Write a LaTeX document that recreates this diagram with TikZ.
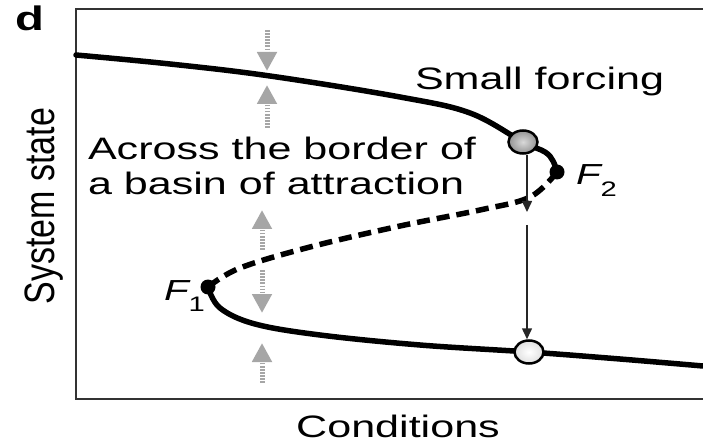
\documentclass[tikz,border=0pt]{standalone}
\usepackage{fontspec}
\setmainfont{Liberation Sans}
\usetikzlibrary{arrows.meta,shapes.geometric}
\newcommand{\hs}[1]{\scalebox{1.39}[1]{#1}}
\tikzset{
  lbl/.style={inner sep=0pt, outer sep=0pt, font=\fontsize{31}{35}\selectfont},
  branch/.style={line width=5.5pt, black, line cap=round},
  garrow/.style={draw=gray!70, line width=5pt, dash pattern=on 1.6pt off 1.5pt,
    -{Triangle[length=19pt,width=19pt,fill=gray!70]}},
  tarrow/.style={draw=black!85, line width=1.5pt, -{Triangle[length=11pt,width=10pt]}},
  ball/.style={ellipse, draw=black, line width=2.5pt, minimum width=29pt, minimum height=23pt, inner sep=0pt},
  fdot/.style={circle, fill=black, minimum size=15pt, inner sep=0pt},
}
\begin{document}
\begin{tikzpicture}[x=1pt,y=-1pt]
\useasboundingbox (0,0) rectangle (703,443);
% frame
\draw[line width=2.5pt, black!80] (703,9) -- (76,9) -- (76,399) -- (703,399);
% branches
\draw[branch] plot[smooth, tension=0.6] coordinates {(76,55) (170,64) (270,76) (400,97) (470,113) (523,142) (545,152) (553,161) (557,172)};
\draw[branch, line cap=butt, dash pattern=on 13pt off 7pt] plot[smooth, tension=0.6] coordinates {(557,172) (530,197) (480,210) (400,226) (310,247) (240,268) (208,287)};
\draw[branch] plot[smooth, tension=0.6] coordinates {(208,287) (220,308) (255,324) (320,335) (420,345) (529,352) (620,359) (703,366)};
% fold points
\node[fdot] (F2) at (557,172) {};
\node[fdot] (F1) at (208,287) {};
% balls
\node[ball, shading=radial, inner color=gray!30, outer color=gray!85] (ballA) at (523,142) {};
\node[ball, shading=radial, inner color=white, outer color=gray!25] (ballB) at (529,352) {};
% thin arrows
\coordinate (mA) at (527,212);
\coordinate (mB) at (527,225);
\draw[tarrow] (ballA.south -| mA) -- (mA);
\draw[tarrow] (mB) -- (ballB.north -| mB);
% gray arrows
\coordinate (g1s) at (267,30); \coordinate (g1e) at (267,71);
\coordinate (g2s) at (267,128); \coordinate (g2e) at (267,85);
\coordinate (g3s) at (262,250); \coordinate (g3e) at (262,210);
\coordinate (g4s) at (262,270); \coordinate (g4e) at (262,313);
\coordinate (g5s) at (262,383); \coordinate (g5e) at (262,343);
\draw[garrow] (g1s) -- (g1e);
\draw[garrow] (g2s) -- (g2e);
\draw[garrow] (g3s) -- (g3e);
\draw[garrow] (g4s) -- (g4e);
\draw[garrow] (g5s) -- (g5e);
% texts
\node[lbl, anchor=base west, font=\fontsize{34}{36}\selectfont] (d) at (15,31) {\hs{\bfseries d}};
\node[lbl, anchor=base west] (sf) at (415,90) {\hs{Small forcing}};
\node[lbl, anchor=base west] (ac1) at (88,160) {\hs{Across the border of}};
\node[lbl, anchor=base west] (ac2) at (88,195) {\hs{a basin of attraction}};
\node[lbl, anchor=base] (cond) at (398,437) {\hs{Conditions}};
\node[lbl, rotate=90, anchor=base, font=\fontsize{34}{36}\selectfont] (ss) at (54,206) {\scalebox{1}[1.25]{System state}};
\node[lbl, anchor=base west, font=\fontsize{29}{30}\selectfont] (f1l) at (164,300) {\hs{\itshape F\raisebox{-0.4em}{\fontsize{21}{21}\selectfont\upshape 1}}};
\node[lbl, anchor=base west, font=\fontsize{29}{30}\selectfont] (f2l) at (576,185) {\hs{\itshape F\raisebox{-0.4em}{\fontsize{21}{21}\selectfont\upshape 2}}};
\end{tikzpicture}
\end{document}
